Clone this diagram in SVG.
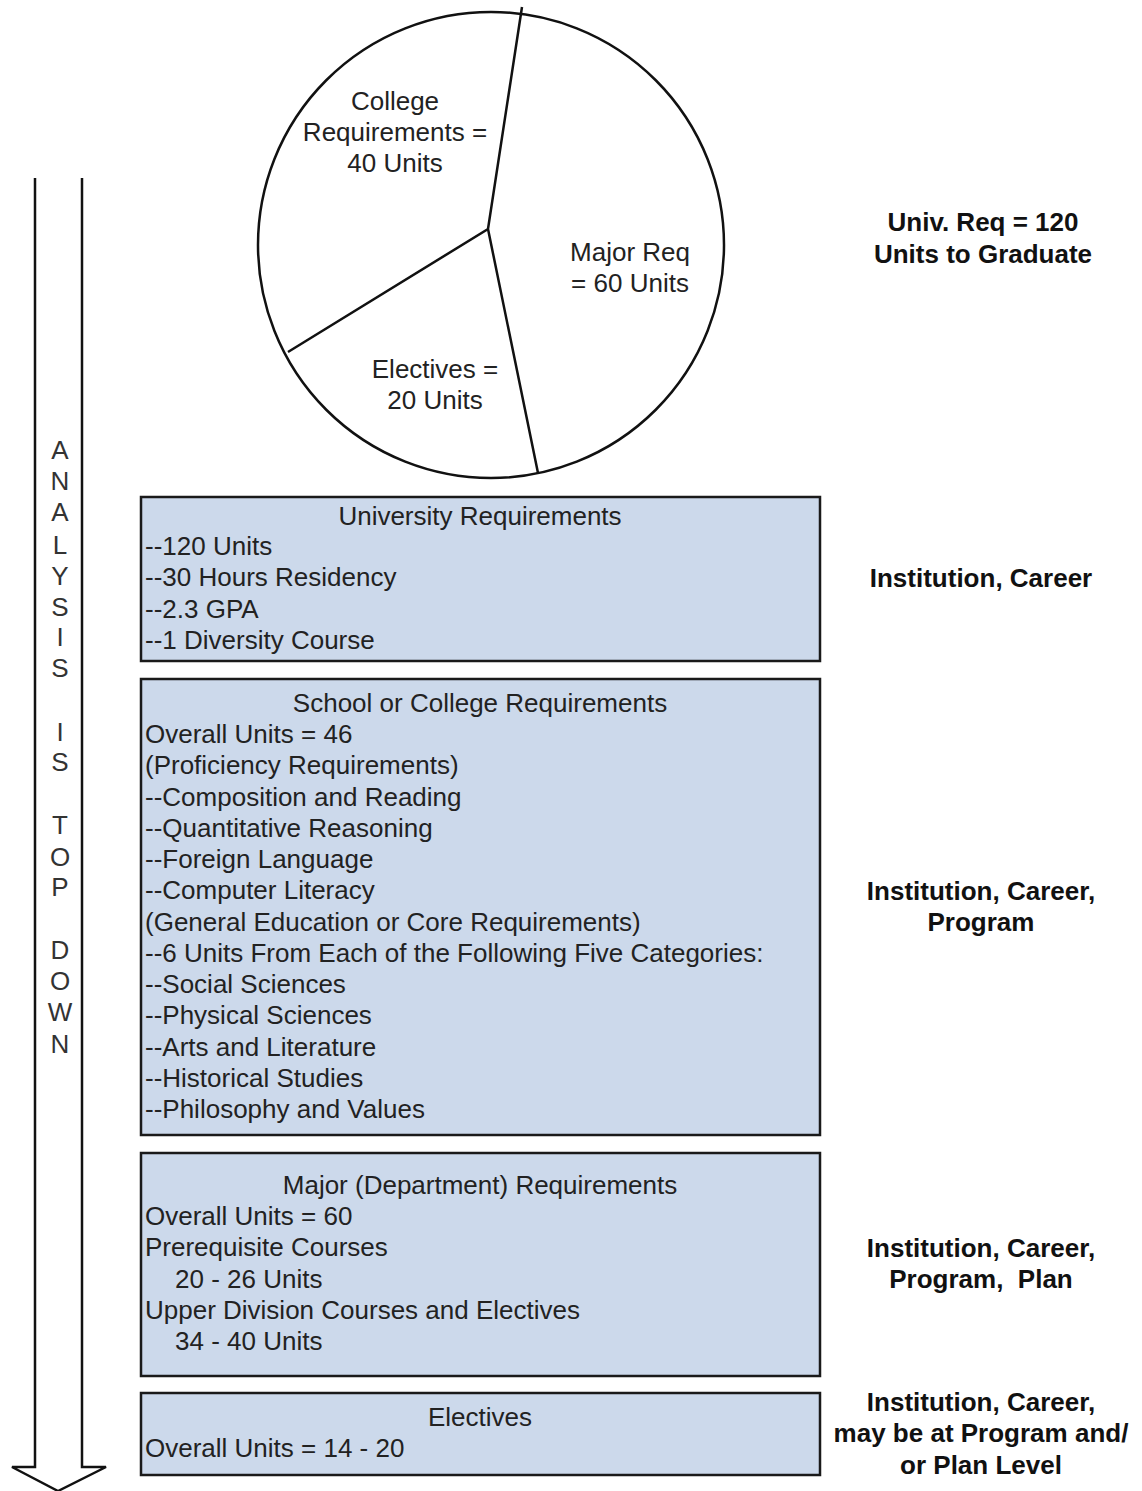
<svg xmlns="http://www.w3.org/2000/svg" width="1142" height="1491" viewBox="0 0 1142 1491">
<style>
text{font-family:"Liberation Sans",Arial,sans-serif;font-size:26px;fill:#222}
.c{text-anchor:middle}
.b{font-weight:bold;fill:#111}
.v{text-anchor:middle;fill:#333}
.box{fill:#ccd9eb;stroke:#1a1a1a;stroke-width:2.5}
.ln{fill:none;stroke:#111;stroke-width:2.5}
</style>
<rect width="1142" height="1491" fill="#fff"/>
<g id="pie">
<circle cx="491" cy="245" r="233" fill="#fff" stroke="#111" stroke-width="2.5"/>
<path class="ln" d="M522,7 L488,229 L288,352 M488,229 L538,473"/>
<text class="c" x="395" y="110">College</text>
<text class="c" x="395" y="141">Requirements =</text>
<text class="c" x="395" y="172">40 Units</text>
<text class="c" x="630" y="261">Major Req</text>
<text class="c" x="630" y="292">= 60 Units</text>
<text class="c" x="435" y="378">Electives =</text>
<text class="c" x="435" y="409">20 Units</text>
</g>
<g id="connectors">
<path id="arrow" class="ln" stroke-linejoin="miter" d="M35,178 L35,1467 L12,1467 L58,1491 L106,1467 L82,1467 L82,178"/>
</g>
<g id="arrow-label">
<text class="v" x="60" y="459">A</text>
<text class="v" x="60" y="490">N</text>
<text class="v" x="60" y="521">A</text>
<text class="v" x="60" y="554">L</text>
<text class="v" x="60" y="585">Y</text>
<text class="v" x="60" y="616">S</text>
<text class="v" x="60" y="646">I</text>
<text class="v" x="60" y="677">S</text>
<text class="v" x="60" y="741">I</text>
<text class="v" x="60" y="771">S</text>
<text class="v" x="60" y="834">T</text>
<text class="v" x="60" y="866">O</text>
<text class="v" x="60" y="896">P</text>
<text class="v" x="60" y="959">D</text>
<text class="v" x="60" y="990">O</text>
<text class="v" x="60" y="1021">W</text>
<text class="v" x="60" y="1053">N</text>
</g>
<g id="univ-total">
<text class="c b" x="983" y="231">Univ. Req = 120</text>
<text class="c b" x="983" y="263">Units to Graduate</text>
</g>
<g id="university">
<rect class="box" x="141" y="497" width="679" height="164"/>
<text class="c" x="480" y="525">University Requirements</text>
<text x="145" y="555">--120 Units</text>
<text x="145" y="586">--30 Hours Residency</text>
<text x="145" y="618">--2.3 GPA</text>
<text x="145" y="649">--1 Diversity Course</text>
</g>
<g id="university-level">
<text class="c b" x="981" y="587">Institution, Career</text>
</g>
<g id="college">
<rect class="box" x="141" y="679" width="679" height="456"/>
<text class="c" x="480" y="712">School or College Requirements</text>
<text x="145" y="743">Overall Units = 46</text>
<text x="145" y="774">(Proficiency Requirements)</text>
<text x="145" y="806">--Composition and Reading</text>
<text x="145" y="837">--Quantitative Reasoning</text>
<text x="145" y="868">--Foreign Language</text>
<text x="145" y="899">--Computer Literacy</text>
<text x="145" y="931">(General Education or Core Requirements)</text>
<text x="145" y="962">--6 Units From Each of the Following Five Categories:</text>
<text x="145" y="993">--Social Sciences</text>
<text x="145" y="1024">--Physical Sciences</text>
<text x="145" y="1056">--Arts and Literature</text>
<text x="145" y="1087">--Historical Studies</text>
<text x="145" y="1118">--Philosophy and Values</text>
</g>
<g id="college-level">
<text class="c b" x="981" y="900">Institution, Career,</text>
<text class="c b" x="981" y="931">Program</text>
</g>
<g id="major">
<rect class="box" x="141" y="1153" width="679" height="223"/>
<text class="c" x="480" y="1194">Major (Department) Requirements</text>
<text x="145" y="1225">Overall Units = 60</text>
<text x="145" y="1256">Prerequisite Courses</text>
<text x="175" y="1288">20 - 26 Units</text>
<text x="145" y="1319">Upper Division Courses and Electives</text>
<text x="175" y="1350">34 - 40 Units</text>
</g>
<g id="major-level">
<text class="c b" x="981" y="1257">Institution, Career,</text>
<text class="c b" x="981" y="1288" xml:space="preserve">Program,  Plan</text>
</g>
<g id="electives">
<rect class="box" x="141" y="1393" width="679" height="82"/>
<text class="c" x="480" y="1426">Electives</text>
<text x="145" y="1457">Overall Units = 14 - 20</text>
</g>
<g id="electives-level">
<text class="c b" x="981" y="1411">Institution, Career,</text>
<text class="c b" x="981" y="1442">may be at Program and/</text>
<text class="c b" x="981" y="1474">or Plan Level</text>
</g>
</svg>
